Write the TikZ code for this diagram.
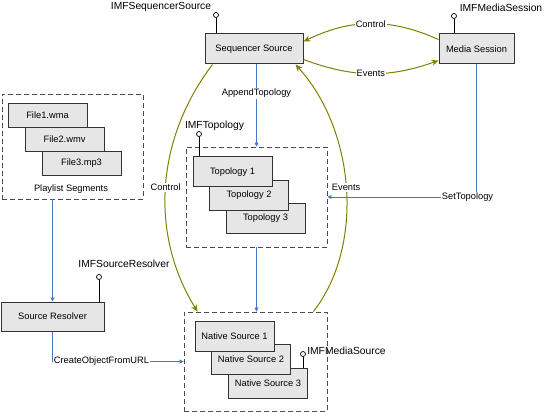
\documentclass[tikz,border=0pt]{standalone}
\usepackage{fontspec}
\setmainfont{Liberation Sans}
\usetikzlibrary{arrows.meta}
\definecolor{ctrlcol}{RGB}{128,128,0}
\definecolor{callcol}{RGB}{70,120,200}
\definecolor{boxfill}{RGB}{230,230,230}

\begin{document}
\begin{tikzpicture}[x=1pt,y=-1pt,font=\fontsize{9.3}{11}\selectfont,
      obj/.style={rectangle,draw=black!80,fill=boxfill,line width=1pt,
        inner sep=0pt,minimum width=79pt,minimum height=30pt},
      group/.style={rectangle,draw=black!70,line width=0.9pt,
        dash pattern=on 5pt off 3pt,inner sep=0pt},
      iface/.style={circle,draw=black,fill=white,line width=0.7pt,
        inner sep=0pt,minimum size=5pt},
      ifacelbl/.style={font=\fontsize{10.3}{12}\selectfont},
      lolly/.style={draw=black,line width=0.8pt},
      ctrl/.style={draw=ctrlcol,line width=1pt,-{Stealth[length=7pt,width=6pt]}},
      call/.style={draw=callcol,line width=0.8pt,-{Triangle[length=4pt,width=4pt]}},
      lbl/.style={fill=white,inner sep=1pt}]
      \useasboundingbox (0,0) rectangle (550,412);

      % groups
      \node[group,minimum width=141pt,minimum height=105pt] (pl)  at ( 72.5,146.5) {};
      \node[group,minimum width=141pt,minimum height=100pt] (top) at (256.5,197  ) {};
      \node[group,minimum width=143pt,minimum height= 99pt] (nat) at (255.5,361.5) {};
      \node (pllbl) at (71,189) {Playlist Segments};

      % components
      \node[obj,minimum width=98pt] (seq) at (254  , 49  ) {Sequencer Source};
      \node[obj,minimum width=75pt] (ms)  at (476.5, 49  ) {Media Session};
      \node[obj,minimum width=103pt,minimum height=29pt] (sr) at (52.5,316.5) {Source Resolver};

      \node[obj,minimum height=24pt] (f3) at ( 81.5,163.5) {File3.mp3};
      \node[obj,minimum height=24pt] (f2) at ( 64.5,139.5) {File2.wmv};
      \node[obj,minimum height=24pt] (f1) at ( 47.5,115.5) {File1.wma};

      \node[obj] (t3) at (265.5,218.5) {Topology 3};
      \node[obj] (t2) at (249  ,195.5) {Topology 2};
      \node[obj] (t1) at (232.5,172  ) {Topology 1};

      \node[obj] (n3) at (268  ,383  ) {Native Source 3};
      \node[obj] (n2) at (251  ,359.5) {Native Source 2};
      \node[obj] (n1) at (234.5,336.5) {Native Source 1};

      % interfaces
      \node[iface] (iseq)  at (216, 15) {};
      \node[iface] (ims)   at (454, 16) {};
      \node[iface] (itop)  at (199,134) {};
      \node[iface] (isr)   at ( 99,277) {};
      \node[iface] (imsrc) at (303,354) {};
      \draw[lolly] (iseq)  -- (iseq  |- seq.north);
      \draw[lolly] (ims)   -- (ims   |- ms.north);
      \draw[lolly] (itop)  -- (itop  |- t1.north);
      \draw[lolly] (isr)   -- (isr   |- sr.north);
      \draw[lolly] (imsrc) -- (imsrc |- n3.north);
      \node[ifacelbl] (iseqlbl)  at (161,  7) {IMFSequencerSource};
      \node[ifacelbl] (imslbl)   at (501,  8) {IMFMediaSession};
      \node[ifacelbl] (itoplbl)  at (214.5,126) {IMFTopology};
      \node[ifacelbl] (isrlbl)   at (124,264) {IMFSourceResolver};
      \node[ifacelbl] (imsrclbl) at (346.5,351) {IMFMediaSource};

      % control and events
      \draw[ctrl] ([yshift=-6pt]ms.north west) to[bend right=25]
        node[lbl] {Control} ([yshift=-8pt]seq.north east);
      \draw[ctrl] ([yshift=5pt]seq.south east) to[bend right=20]
        node[lbl] {Events} ([yshift=4pt]ms.south west);
      \draw[ctrl] ([xshift=8pt]seq.south west) .. controls (155,140) and (150,235) ..
        node[lbl,pos=0.5] {Control} ([xshift=14pt]nat.north west);
      \draw[ctrl] ([xshift=-14pt]nat.north east) .. controls (365,245) and (355,130) ..
        node[lbl,pos=0.5] {Events} ([xshift=-8pt]seq.south east);

      % calls
      \draw[call] (seq.south -| top.north) -- node[lbl,pos=0.35] {AppendTopology} (top.north);
      \draw[call] (top.south) -- (top.south |- nat.north);
      \draw[call] (ms.south) |- node[lbl,pos=0.5,xshift=-9pt] {SetTopology} (top.east);
      \draw[call] (pl.south -| sr.north) -- (sr.north);
      \draw[call] (sr.south) |- node[lbl,pos=0.5,anchor=west] {CreateObjectFromURL} (nat.west);
\end{tikzpicture}
\end{document}
